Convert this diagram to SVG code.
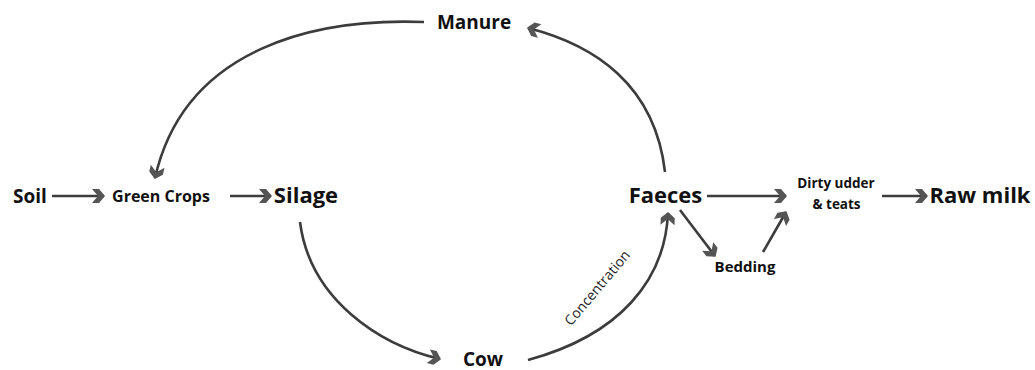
<svg xmlns="http://www.w3.org/2000/svg" width="1035" height="370" viewBox="0 0 1035 370">
  <style>
    .lbl { font-family: "Open Sans", "Liberation Sans", sans-serif; font-weight: 700; fill: #111; text-anchor: middle; }
    .big { font-size: 22px; }
    .mid { font-size: 19px; }
    .sm { font-size: 16px; }
    .xs { font-size: 13.5px; }
    .bed { font-size: 15px; }
    .edge { fill: none; stroke: #3c3c3c; stroke-width: 2.6; }
    .note { font-family: "Open Sans", "Liberation Sans", sans-serif; font-size: 14px; fill: #222; }
  </style>
  <defs>
    <marker id="chev" markerUnits="userSpaceOnUse" markerWidth="18" markerHeight="18" viewBox="-13 -9 18 18" refX="0" refY="0" orient="auto">
      <path d="M-12,-7 L-5,-7 L1,0 L-5,7 L-12,7 L-6,0 Z" fill="#555"/>
    </marker>
  </defs>
  <rect width="1035" height="370" fill="#fff"/>

  <g id="connectors">
    <!-- straight links along the main row -->
    <path class="edge" d="M52,196 L104,196" marker-end="url(#chev)"/>
    <path class="edge" d="M230,196 L271,196" marker-end="url(#chev)"/>
    <path class="edge" d="M707,196 L786,196" marker-end="url(#chev)"/>
    <path class="edge" d="M882,196 L927,196" marker-end="url(#chev)"/>
    <!-- faeces, bedding and udder -->
    <path class="edge" d="M680,210 L715,256" marker-end="url(#chev)"/>
    <path class="edge" d="M763,252 L786,212" marker-end="url(#chev)"/>
    <!-- manure back to crops -->
    <path class="edge" d="M424,22 C320,18 185,45 155,178" marker-end="url(#chev)"/>
    <!-- faeces up to manure -->
    <path class="edge" d="M665,172 C655,85 595,45 528,28" marker-end="url(#chev)"/>
    <!-- silage down to cow -->
    <path class="edge" d="M300,222 C310,300 380,345 440,359" marker-end="url(#chev)"/>
    <!-- cow up to faeces -->
    <path class="edge" d="M528,360 C620,335 665,280 668,213" marker-end="url(#chev)"/>
    <text class="note" transform="translate(601,291) rotate(-50)" text-anchor="middle">Concentration</text>
  </g>

  <g id="soil"><text class="lbl mid" x="30" y="203">Soil</text></g>
  <g id="green-crops"><text class="lbl sm" x="161" y="202">Green Crops</text></g>
  <g id="silage"><text class="lbl big" x="306" y="203">Silage</text></g>
  <g id="manure"><text class="lbl mid" x="474" y="29">Manure</text></g>
  <g id="cow"><text class="lbl mid" x="483" y="366">Cow</text></g>
  <g id="faeces"><text class="lbl big" x="665.5" y="203">Faeces</text></g>
  <g id="dirty-udder">
    <text class="lbl xs" x="836" y="188">Dirty udder</text>
    <text class="lbl xs" x="836.5" y="209">&amp; teats</text>
  </g>
  <g id="bedding"><text class="lbl bed" x="745" y="272">Bedding</text></g>
  <g id="raw-milk"><text class="lbl big" x="980" y="203">Raw milk</text></g>
</svg>
